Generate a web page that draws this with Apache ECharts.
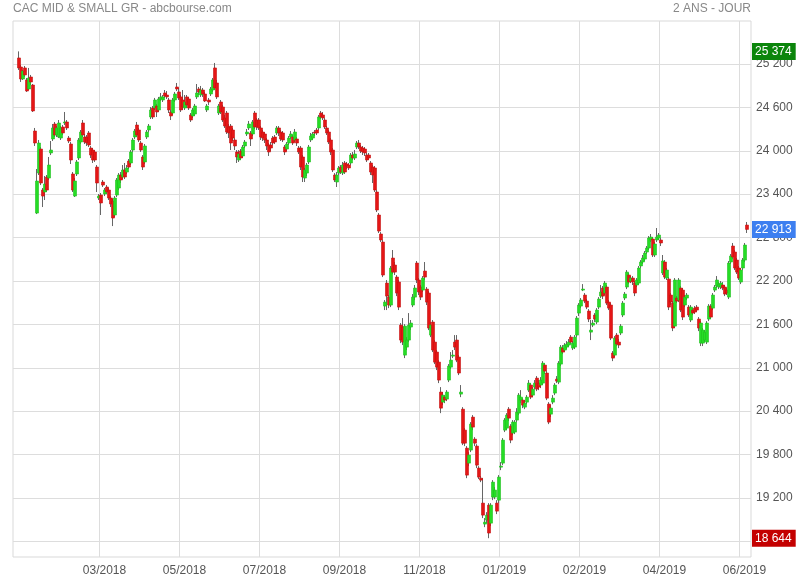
<!DOCTYPE html>
<html><head><meta charset="utf-8">
<script src="https://cdn.jsdelivr.net/npm/echarts@6/dist/echarts.min.js"></script>
<style>html,body{margin:0;padding:0;background:#fff}#c{width:800px;height:580px}</style>
</head><body><div id="c"></div>
<script>
// [open, close, low, high] per trading day
const candles = [
[25283,25145,25117,25374],[25158,24992,24951,25186],[24992,25103,24979,25117],[25145,25048,25020,25172],[24979,24826,24813,25006],
[24854,25006,24840,25145],[25020,24951,24909,25048],[24909,24550,24536,24923],[24273,24107,24066,24315],[23139,23582,23125,23748],
[23692,24107,23665,24149],[24024,23554,23526,24052],[23457,23374,23222,23485],[23430,23540,23319,23651],[23637,23457,23430,23665],
[23623,23803,23596,23914],[23969,24010,23941,24135],[24163,24315,24135,24370],[24370,24218,24190,24398],[24218,24315,24190,24342],
[24190,24384,24176,24425],[24176,24315,24149,24342],[24329,24246,24218,24356],[24384,24398,24356,24536],[24398,24315,24287,24425],
[24176,24135,24107,24204],[24093,23872,23817,24121],[23679,23457,23430,23706],[23374,23582,23361,23623],[23679,23845,23651,23872],
[23900,24149,23872,24176],[24121,24259,24093,24287],[24384,24218,24190,24425],[24190,24121,24093,24232],[24190,24107,24066,24218],
[24246,24080,24052,24273],[24038,23941,23900,24066],[24010,23872,23831,24038],[23983,23872,23845,24010],[23775,23554,23430,23803],
[23347,23374,23319,23402],[23388,23278,23112,23416],[23568,23526,23499,23596],[23402,23457,23374,23485],[23499,23430,23402,23526],
[23457,23347,23319,23485],[23347,23264,23222,23374],[23305,23070,22959,23333],[23112,23347,23084,23374],[23388,23596,23361,23623],
[23485,23665,23457,23692],[23665,23596,23554,23706],[23637,23734,23609,23803],[23734,23637,23609,23831],[23706,23762,23679,23803],
[23858,23775,23748,23886],[23831,23983,23803,24010],[24010,24149,23983,24176],[24190,24273,24163,24301],[24356,24218,24190,24398],
[24287,24149,24121,24315],[24107,24010,23983,24135],[23914,23775,23734,23941],[23845,24066,23817,24093],[24190,24259,24163,24287],
[24287,24342,24259,24370],[24467,24564,24439,24605],[24591,24467,24439,24619],[24591,24702,24564,24730],[24619,24536,24467,24647],
[24564,24716,24536,24744],[24716,24744,24688,24799],[24702,24744,24674,24771],[24799,24757,24730,24840],[24771,24744,24716,24826],
[24702,24564,24522,24730],[24536,24481,24425,24564],[24522,24702,24495,24730],[24702,24785,24674,24813],[24882,24854,24826,24937],
[24813,24730,24702,24868],[24744,24564,24536,24771],[24702,24605,24564,24840],[24591,24674,24564,24771],[24744,24633,24591,24771],
[24716,24591,24564,24744],[24495,24425,24398,24522],[24481,24564,24453,24591],[24508,24619,24481,24647],[24744,24799,24716,24923],
[24854,24813,24771,24882],[24771,24840,24744,24896],[24840,24785,24744,24868],[24785,24688,24674,24813],[24564,24619,24536,24647],
[24702,24674,24633,24730],[24785,24854,24757,24882],[24840,24979,24813,25006],[25145,24868,24840,25214],[24937,24744,24716,24979],
[24522,24619,24495,24647],[24674,24536,24508,24702],[24605,24425,24398,24633],[24453,24342,24315,24495],[24522,24259,24232,24550],
[24329,24246,24176,24370],[24342,24107,24010,24370],[24287,24176,24135,24315],[24149,24066,24010,24176],[23983,23914,23831,24010],
[23872,23955,23845,24010],[23997,23900,23872,24024],[23928,24052,23900,24080],[24066,24121,24038,24149],[24232,24259,24204,24301],
[24315,24370,24287,24412],[24246,24163,24066,24273],[24232,24398,24204,24425],[24522,24329,24301,24550],[24425,24329,24287,24453],
[24425,24315,24287,24453],[24315,24190,24149,24342],[24259,24176,24135,24287],[24232,24149,24107,24259],[24149,24066,24010,24176],
[24080,23983,23928,24107],[24080,24038,23997,24121],[24176,24107,24080,24204],[24190,24121,24093,24218],[24246,24315,24218,24342],
[24315,24246,24204,24342],[24259,24163,24135,24287],[24246,24149,24121,24273],[24052,23983,23941,24080],[24024,24093,23997,24121],
[24107,24176,24080,24204],[24190,24232,24163,24273],[24190,24107,24080,24218],[24149,24259,24121,24301],[24163,24107,24066,24190],
[24038,23983,23955,24066],[24038,23775,23734,24066],[23914,23637,23568,23941],[23623,23734,23568,23762],[23692,23803,23651,23831],
[23845,24052,23817,24080],[24149,24204,24121,24246],[24176,24232,24149,24259],[24259,24246,24204,24287],[24287,24246,24218,24315],
[24315,24467,24287,24495],[24522,24467,24439,24550],[24495,24453,24425,24536],[24425,24329,24301,24453],[24315,24246,24218,24342],
[24259,24121,24093,24287],[24149,23983,23941,24176],[24010,23734,23706,24038],[23665,23596,23568,23692],[23568,23665,23499,23706],
[23692,23762,23665,23789],[23775,23706,23679,23803],[23692,23803,23665,23845],[23831,23706,23679,23858],[23817,23789,23748,23845],
[23803,23762,23734,23831],[23831,23941,23803,23969],[23941,23900,23872,23983],[23900,23955,23872,24010],[24052,24107,24024,24135],
[24107,24052,24024,24149],[24052,23997,23969,24080],[24038,23983,23941,24066],[24024,23969,23928,24052],[23941,23872,23845,23969],
[23941,23900,23872,23969],[23831,23706,23665,23858],[23775,23665,23554,23803],[23762,23457,23430,23789],[23430,23181,23153,23457],
[23112,22890,22863,23139],[22849,22766,22738,22876],[22738,22282,22254,22766],[21853,21908,21798,21936],[22171,21991,21798,22213],
[21977,21867,21825,22005],[21867,22379,21839,22407],[22517,22323,22296,22628],[22420,22323,22282,22462],[22254,22033,21991,22282],
[22185,21839,21798,22213],[21590,21383,21341,21618],[21563,21355,21314,21687],[21175,21576,21134,21604],[21286,21383,21245,21424],
[21383,21590,21355,21756],[21563,21618,21521,21660],[21867,21977,21839,22019],[21977,22102,21936,22144],[22448,22213,22171,22476],
[22213,22047,22005,22240],[22116,21977,21936,22144],[22074,22240,22047,22268],[22337,22254,22213,22462],[22088,21908,21867,22116],
[22033,21549,21521,22060],[21452,21590,21424,21632],[21632,21245,21217,21660],[21355,21078,21051,21383],[21217,21009,20968,21245],
[21078,20830,20788,21106],[20664,20442,20373,20733],[20525,20622,20484,20664],[20594,20553,20511,20622],[20567,20664,20539,20691],
[20830,21023,20802,21051],[21009,21106,20982,21217],[21161,21175,21134,21245],[21355,21286,21245,21452],[21383,21106,21078,21452],
[21148,20927,20899,21175],[20636,20664,20594,20761],[20428,19958,19931,20456],[20138,19958,19917,20166],[19889,19516,19474,19917],
[19682,19793,19640,19834],[19862,20221,19834,20249],[20318,20180,20138,20346],[20014,19958,19917,20041],[19917,19654,19613,19944],
[19613,19488,19461,19640],[19474,19447,19419,19502],[19129,18963,18922,19474],[18839,18866,18797,18922],[18894,18963,18852,19004],
[19101,18715,18644,19129],[18852,19101,18811,19129],[19212,19419,19170,19447],[19212,19309,19184,19350],[19129,19018,18977,19170],
[19170,19488,19129,19516],[19626,19640,19585,19696],[19682,20000,19654,20028],[20138,20277,20111,20304],[20166,20346,20138,20373],
[20428,20304,20263,20456],[20193,20000,19958,20221],[20097,20249,20069,20277],[20111,20249,20083,20277],[20277,20387,20249,20442],
[20373,20622,20346,20650],[20553,20594,20511,20691],[20553,20484,20442,20580],[20456,20511,20428,20553],[20525,20594,20497,20622],
[20691,20788,20664,20830],[20761,20594,20567,20788],[20622,20705,20594,20733],[20733,20788,20705,20830],[20857,20705,20677,20885],
[20788,20733,20691,20830],[20761,20830,20719,20871],[20788,21064,20761,21092],[21037,20954,20913,21064],[20927,20580,20553,20954],
[20498,20249,20221,20525],[20359,20442,20318,20484],[20525,20580,20497,20622],[20650,20761,20622,20788],[20843,20816,20788,20885],
[20802,21064,20774,21092],[21051,21286,21023,21314],[21272,21217,21189,21314],[21245,21314,21217,21341],[21286,21328,21259,21369],
[21314,21355,21286,21397],[21424,21355,21328,21452],[21272,21341,21245,21369],[21286,21424,21259,21452],[21452,21687,21424,21715],
[21756,21867,21715,21894],[21853,21936,21825,21964],[22074,22088,22060,22157],[22005,21922,21894,22033],[21922,21839,21811,21950],
[21784,21673,21632,21811],[21493,21521,21383,21660],[21590,21618,21563,21660],[21729,21673,21632,21756],[21632,21798,21604,21825],
[21839,21950,21811,21977],[21991,22047,21964,22144],[22102,21991,21950,22130],[22033,22171,22005,22199],[22116,21894,21867,22144],
[21908,21825,21798,21936],[21867,21410,21383,21894],[21203,21134,21092,21231],[21175,21410,21148,21438],[21452,21328,21300,21480],
[21355,21314,21272,21397],[21480,21576,21452,21604],[21729,21894,21701,21922],[21964,22019,21936,22047],[22116,22323,22088,22351],
[22282,22185,22157,22310],[22199,22240,22171,22268],[22240,22185,22144,22268],[22171,22033,21991,22199],[22144,22213,22116,22240],
[22171,22379,22144,22407],[22407,22462,22379,22489],[22462,22517,22434,22559],[22503,22586,22476,22614],[22600,22655,22572,22683],
[22655,22794,22628,22821],[22766,22807,22738,22849],[22780,22559,22531,22807],[22559,22711,22531,22738],[22766,22807,22738,22932],
[22794,22835,22766,22863],[22766,22725,22683,22794],[22310,22476,22282,22559],[22462,22254,22226,22489],[22240,22351,22213,22379],
[22226,21839,21798,22254],[22005,21908,21867,22033],[21894,21549,21507,21922],[21576,22213,21549,22240],[21964,21922,21894,21991],
[21936,22213,21908,22240],[22102,21798,21770,22130],[22074,21701,21660,22102],[21867,21977,21839,22005],[21964,22005,21936,22033],
[21839,21729,21701,21867],[21660,21839,21632,21867],[21798,21756,21729,21825],[21825,21770,21743,21853],[21839,21798,21770,21867],
[21673,21549,21507,21701],[21341,21618,21300,21645],[21341,21521,21300,21549],[21383,21493,21355,21521],[21355,21618,21328,21645],
[21673,21853,21645,21880],[21853,21701,21673,21880],[21825,22005,21798,22033],[22074,22116,22047,22144],[22130,22213,22102,22268],
[22116,22157,22088,22185],[22116,22171,22088,22199],[22144,22102,22074,22185],[22116,22019,21991,22144],[22074,22033,22005,22102],
[21977,22448,21950,22476],[22462,22545,22434,22572],[22683,22531,22503,22725],[22600,22379,22351,22628],[22489,22323,22296,22517],
[22379,22240,22213,22407],[22185,22351,22157,22379],[22379,22489,22351,22517],[22489,22697,22462,22725],[22973,22913,22863,23015]
];
const totalDays = 370;           // trading-day slots on the axis
const firstDay = 3;              // slot of the first candle
const tickDays = [43, 83, 123, 163, 203, 243, 283, 323, 363];
const tickLabels = ['03/2018', '05/2018', '07/2018', '09/2018', '11/2018', '01/2019', '02/2019', '04/2019', '06/2019'];
const yTicks = [18600, 19200, 19800, 20400, 21000, 21600, 22200, 22800, 23400, 24000, 24600, 25200];
const chartTitle = 'CAC MID & SMALL GR - abcbourse.com';
const periodLabel = '2 ANS - JOUR';

const FONT = '"Liberation Sans", Arial, sans-serif';
const fmt = v => String(Math.round(v)).replace(/\B(?=(\d{3})+(?!\d))/g, ' ');
const days = Array.from({length: totalDays}, (_, i) => String(i));
const full = candles.map((c, k) => [firstDay + k, c[0], c[1], c[2], c[3]]);
const bodies = candles.map((c, k) => [firstDay + k, c[0], c[1], Math.min(c[0], c[1]), Math.max(c[0], c[1])]);
const maxHigh = Math.max(...candles.map(c => c[3]));
const minLow = Math.min(...candles.map(c => c[2]));
const lastClose = candles[candles.length - 1][1];

const chart = echarts.init(document.getElementById('c'), null, {renderer: 'canvas'});
chart.setOption({
  animation: false,
  backgroundColor: '#fff',
  textStyle: {fontFamily: FONT},
  title: [
    {text: chartTitle, left: 13, top: 3, padding: 0, textStyle: {fontSize: 12, color: '#888', fontWeight: 'normal', fontFamily: FONT}},
    {text: periodLabel, right: 49, top: 3, padding: 0, textStyle: {fontSize: 12, color: '#888', fontWeight: 'normal', fontFamily: FONT}}
  ],
  grid: {left: 13, right: 49, top: 21, bottom: 23, show: true, borderColor: '#d9d9d9', borderWidth: 1},
  xAxis: {
    type: 'category', data: days, boundaryGap: false,
    axisLine: {show: false}, axisTick: {show: false},
    splitLine: {show: true, interval: i => tickDays.includes(i), lineStyle: {color: '#dddddd', width: 1}},
    axisLabel: {
      interval: i => tickDays.includes(i),
      formatter: (v, i) => tickLabels[tickDays.indexOf(i)] || '',
      color: '#555', fontSize: 12, margin: 8, padding: [0, 0, 0, 11], fontFamily: FONT
    }
  },
  yAxis: {
    type: 'value', position: 'right', min: 18384, max: 25794, scale: true,
    axisLine: {show: false},
    axisTick: {show: false, customValues: yTicks},
    axisLabel: {customValues: yTicks, formatter: fmt, color: '#555', fontSize: 12, margin: 5, fontFamily: FONT},
    splitLine: {show: true, lineStyle: {color: '#dddddd', width: 1}}
  },
  series: [
    {
      name: 'wick', type: 'candlestick', data: full, encode: {x: 0, y: [1, 2, 3, 4]},
      barWidth: 1, silent: true, z: 2,
      itemStyle: {color: '#666', color0: '#666', borderColor: '#666', borderColor0: '#666', borderWidth: 1}
    },
    {
      name: 'body', type: 'candlestick', data: bodies, encode: {x: 0, y: [1, 2, 3, 4]},
      barWidth: 3, silent: true, z: 3,
      itemStyle: {color: '#25dd25', color0: '#e51616', borderColor: '#1fbf1f', borderColor0: '#c41010', borderWidth: 0.6}
    },
    {
      name: 'levels', type: 'line', data: [], silent: true, z: 5,
      markLine: {
        silent: true, symbol: ['none', 'none'], animation: false,
        lineStyle: {color: 'rgba(255,255,255,0)', width: 1, type: 'solid'},
        emphasis: {disabled: true},
        label: {show: true, position: 'end', distance: 1, color: '#fff', fontSize: 12, fontFamily: FONT, padding: [3, 4, 2, 3], formatter: p => fmt(p.value)},
        data: [
          {yAxis: maxHigh, label: {backgroundColor: '#0b850b'}},
          {yAxis: lastClose, label: {backgroundColor: '#3d7ff0'}},
          {yAxis: minLow, label: {backgroundColor: '#c40000'}}
        ]
      }
    }
  ]
});
</script>
</body></html>
